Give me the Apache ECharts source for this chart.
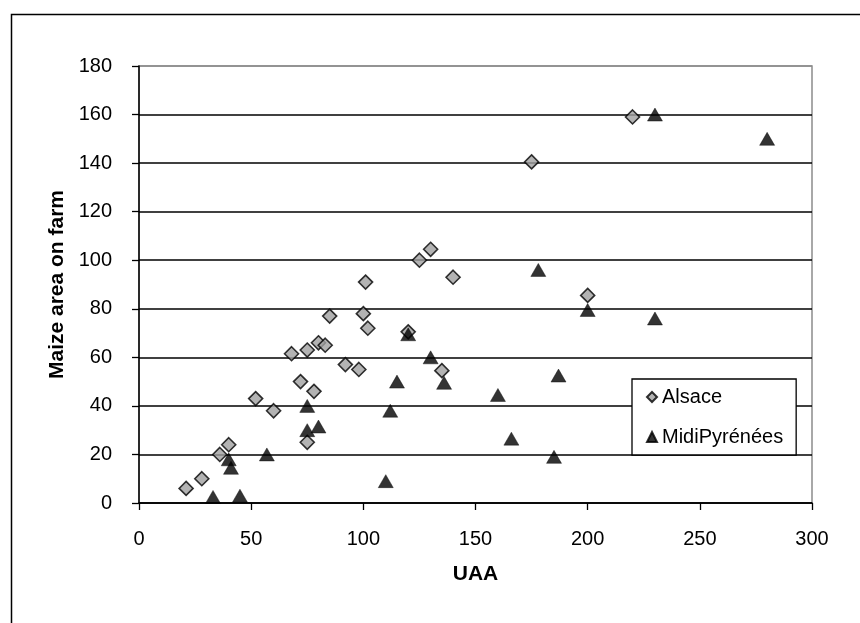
<!DOCTYPE html>
<html>
<head>
<meta charset="utf-8">
<script src="https://cdn.jsdelivr.net/npm/echarts@6/dist/echarts.min.js"></script>
<style>html,body{margin:0;padding:0;background:#fff;}#c{width:860px;height:623px;}</style>
</head>
<body>
<div id="c"></div>
<script>
var alsaceUAA   = [21, 28, 36, 40, 52, 60, 68, 72, 75, 75, 78, 80, 83, 85, 92, 98, 100, 101, 102, 120, 125, 130, 135, 140, 175, 200, 220];
var alsaceMaize = [6, 10, 20, 24, 43, 38, 61.5, 50, 63, 25, 46, 66, 65, 77, 57, 55, 78, 91, 72, 70.5, 100, 104.5, 54.5, 93, 140.5, 85.5, 159];
var midiUAA   = [33, 45, 40, 41, 57, 75, 75, 80, 110, 112, 115, 120, 130, 136, 160, 166, 178, 185, 187, 200, 230, 230, 280];
var midiMaize = [2.5, 3, 18, 14.5, 20, 40, 30, 31.5, 9, 38, 50, 69.5, 60, 49.5, 44.5, 26.5, 96, 19, 52.5, 79.5, 160, 76, 150];
var seriesNames = ['Alsace', 'MidiPyrénées'];
var xTicks = {min: 0, max: 300, interval: 50};
var yTicks = {min: 0, max: 180, interval: 20};

function pairs(xs, ys){ return xs.map(function(x,i){ return [x, ys[i]]; }); }

var font = 'Liberation Sans, Arial, sans-serif';
var chart = echarts.init(document.getElementById('c'), null, {renderer:'canvas'});
var gridColors = [];
for (var v = yTicks.min; v <= yTicks.max; v += yTicks.interval) gridColors.push(v === yTicks.max ? '#8c8c8c' : '#000');

chart.setOption({
  backgroundColor: '#fff',
  animation: false,
  graphic: [{
    type: 'rect', left: 9, top: 12, shape: {width: 900, height: 700},
    style: {fill: 'none', stroke: '#000', lineWidth: 1.5}, silent: true
  }],
  grid: {left: 139, right: 48, top: 66, bottom: 120, show: true, borderColor: '#8c8c8c', borderWidth: 1.5, backgroundColor: 'transparent'},
  legend: {
    orient: 'vertical', left: 632, top: 379,
    data: seriesNames,
    backgroundColor: '#fff', borderColor: '#000', borderWidth: 1.3,
    padding: [8, 13, 8, 14],
    itemWidth: 10, itemHeight: 10, itemGap: 20, itemTextGap: 5,
    textStyle: {fontFamily: font, fontSize: 20, color: '#000'}
  },
  xAxis: {
    type: 'value', min: xTicks.min, max: xTicks.max, interval: xTicks.interval,
    name: 'UAA', nameLocation: 'middle', nameGap: 61,
    nameTextStyle: {fontFamily: font, fontSize: 21, fontWeight: 'bold', color: '#000'},
    axisLine: {show: true, lineStyle: {color: '#000', width: 1.5}},
    axisTick: {show: true, length: 7, lineStyle: {color: '#000', width: 1.3}},
    axisLabel: {fontFamily: font, fontSize: 20, color: '#000', margin: 26},
    splitLine: {show: false}
  },
  yAxis: {
    type: 'value', min: yTicks.min, max: yTicks.max, interval: yTicks.interval,
    name: 'Maize area on farm', nameLocation: 'middle', nameGap: 70, nameRotate: 90,
    nameTextStyle: {fontFamily: font, fontSize: 21, fontWeight: 'bold', color: '#000'},
    axisLine: {show: true, lineStyle: {color: '#000', width: 1.5}},
    axisTick: {show: true, length: 7, lineStyle: {color: '#000', width: 1.3}},
    axisLabel: {fontFamily: font, fontSize: 20, color: '#000', margin: 27},
    splitLine: {show: true, lineStyle: {color: gridColors, width: 1.6}}
  },
  series: [
    {
      name: seriesNames[0], type: 'scatter', symbol: 'diamond', symbolSize: [14, 14],
      itemStyle: {color: '#a0a0a0', borderColor: '#000', borderWidth: 1.6},
      data: pairs(alsaceUAA, alsaceMaize), z: 3
    },
    {
      name: seriesNames[1], type: 'scatter', symbol: 'triangle', symbolSize: [15, 13],
      itemStyle: {color: '#000', borderColor: '#000', borderWidth: 0.5},
      data: pairs(midiUAA, midiMaize), z: 4
    }
  ]
});
</script>
</body>
</html>
